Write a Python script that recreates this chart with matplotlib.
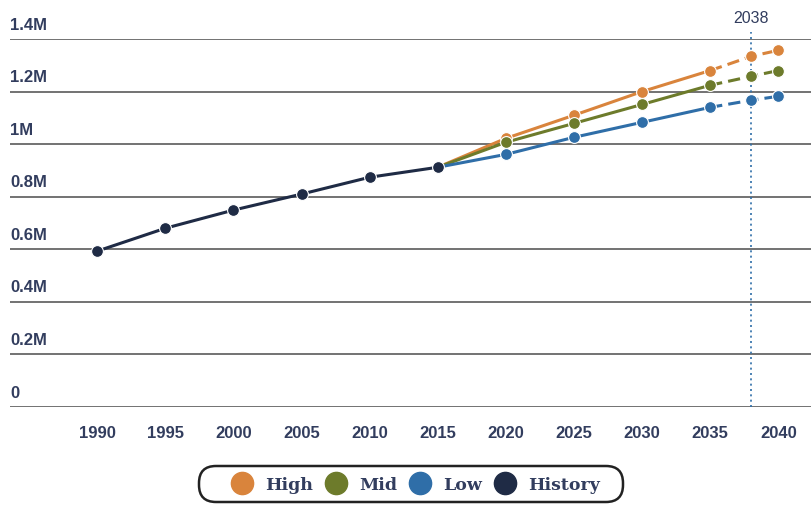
import matplotlib
matplotlib.use("Agg")
import matplotlib.pyplot as plt
from matplotlib.lines import Line2D
from matplotlib.patches import FancyBboxPatch
import matplotlib.transforms as mtransforms

# ---- data ----
hist_years = [1990, 1995, 2000, 2005, 2010, 2015]
hist_vals = [0.593, 0.680, 0.749, 0.810, 0.874, 0.912]

proj_years = [2015, 2020, 2025, 2030, 2035, 2038, 2040]
high_vals = [0.912, 1.022, 1.110, 1.200, 1.280, 1.334, 1.357]
mid_vals = [0.912, 1.007, 1.079, 1.151, 1.224, 1.258, 1.280]
low_vals = [0.912, 0.961, 1.026, 1.083, 1.140, 1.167, 1.182]

x_ticks = [1990, 1995, 2000, 2005, 2010, 2015, 2020, 2025, 2030, 2035, 2040]
y_ticks = [0, 0.2, 0.4, 0.6, 0.8, 1.0, 1.2, 1.4]
y_labels = ["0", "0.2M", "0.4M", "0.6M", "0.8M", "1M", "1.2M", "1.4M"]
marker_year = 2038
series_names = ["High", "Mid", "Low", "History"]

# ---- styles ----
c_high = "#d9843c"
c_mid = "#6d7b2b"
c_low = "#2f6ea8"
c_hist = "#1f2b45"
c_text = "#323d5e"
c_grid = "#5a5a5a"
narrow = ["Liberation Sans", "DejaVu Sans"]
serif = ["DejaVu Serif"]

W, H = 811, 506
fig = plt.figure(figsize=(W / 100, H / 100), dpi=100)
ax = fig.add_axes([10 / W, (H - 408) / H, 801 / W, (408 - 40) / H])
ax.set_xlim(1983.6, 2042.4)
ax.set_ylim(0, 1.4)

for s in ax.spines.values():
    s.set_visible(False)
ax.set_yticks(y_ticks)
ax.set_yticklabels([])
ax.tick_params(axis="y", length=0)
ax.grid(axis="y", color=c_grid, linewidth=1.2)
ax.set_axisbelow(True)

ax.set_xticks(x_ticks)
ax.set_xticklabels([str(v) for v in x_ticks], fontsize=12, fontweight="bold",
                   color=c_text, family=narrow)
ax.tick_params(axis="x", length=0, pad=13)

trans = mtransforms.blended_transform_factory(ax.transAxes, ax.transData)
for v, lab in zip(y_ticks, y_labels):
    ax.text(0.0, v + 0.028, lab, transform=trans, ha="left", va="bottom",
            fontsize=12, fontweight="bold", color=c_text, family=narrow)

# vertical marker line
ax.axvline(marker_year, ymin=0, ymax=1.02, color=c_low, linestyle=(0, (1.2, 2.0)),
           linewidth=1.2, clip_on=False, zorder=1)
ax.text(marker_year, 1.455, str(marker_year), ha="center", va="bottom", fontsize=11.5,
        color=c_text, family=narrow)

ms = 8.5
split = proj_years.index(2035)
for vals, col in [(high_vals, c_high), (mid_vals, c_mid), (low_vals, c_low)]:
    ax.plot(proj_years[:split + 1], vals[:split + 1], color=col, linewidth=2.2,
            zorder=3)
    ax.plot(proj_years[split:], vals[split:], color=col, linewidth=2.2,
            linestyle=(0, (4, 2)), zorder=3)
    ax.plot(proj_years[1:], vals[1:], linestyle="none", marker="o",
            markersize=ms, color=col, markeredgecolor="white",
            markeredgewidth=0.8, zorder=4)

ax.plot(hist_years, hist_vals, color=c_hist, linewidth=2.2, marker="o",
        markersize=ms, markeredgecolor="white", markeredgewidth=0.8, zorder=5)

# legend frame (pill shape), in pixel coordinates
bx0, bx1, by0, by1 = 199, 623, 467, 503
frame = FancyBboxPatch((bx0, H - by1), bx1 - bx0, by1 - by0,
                       boxstyle="round,pad=0,rounding_size=17",
                       transform=mtransforms.IdentityTransform(),
                       facecolor="white", edgecolor="#222222", linewidth=1.8)
fig.patches.append(frame)

handles = [Line2D([], [], linestyle="none", marker="o", markersize=16,
                  color=c, markeredgecolor=c)
           for c in [c_high, c_mid, c_low, c_hist]]
leg = fig.legend(handles, series_names, loc="center",
                 bbox_to_anchor=(415 / W, 1 - 486 / H), ncol=4,
                 frameon=False, handletextpad=0.6,
                 columnspacing=0.65, borderpad=0.2, handlelength=1.4,
                 prop={"family": serif, "weight": "bold", "size": 12.5})
for t in leg.get_texts():
    t.set_color(c_text)

fig.savefig("out.png", dpi=100)
